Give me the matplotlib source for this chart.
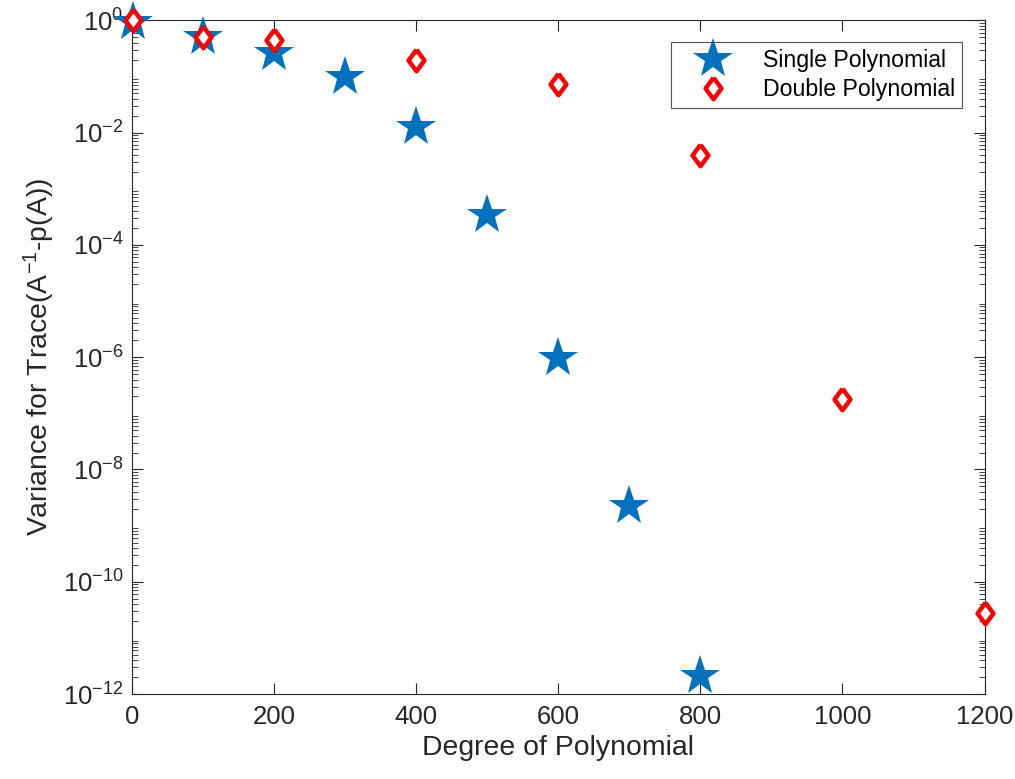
import matplotlib
matplotlib.use("Agg")
import matplotlib.pyplot as plt
from matplotlib.ticker import LogLocator, FixedLocator, NullFormatter

plt.rcParams['font.family'] = ['Liberation Sans', 'DejaVu Sans']
plt.rcParams['mathtext.fontset'] = 'custom'
plt.rcParams['mathtext.rm'] = 'Liberation Sans'
plt.rcParams['mathtext.it'] = 'Liberation Sans'

single_x = [1, 100, 200, 300, 400, 500, 600, 700, 800]
single_y = [0.92, 0.5, 0.26, 0.097, 0.0125, 3.4e-4, 9.7e-7, 2.2e-9, 2.1e-12]
double_x = [1, 100, 200, 400, 600, 800, 1000, 1200]
double_y = [1.0, 0.5, 0.44, 0.195, 0.073, 0.004, 1.8e-7, 2.8e-11]
xticks = [0, 200, 400, 600, 800, 1000, 1200]
yticks = [1e0, 1e-2, 1e-4, 1e-6, 1e-8, 1e-10, 1e-12]
ytick_labels = ['$10^{0}$', '$10^{-2}$', '$10^{-4}$', '$10^{-6}$', '$10^{-8}$', '$10^{-10}$', '$10^{-12}$']

diamond = [(0, 1), (0.74, 0), (0, -1), (-0.74, 0), (0, 1)]

tc = '#262626'
fig = plt.figure(figsize=(10.15, 7.79), dpi=100)
ax = fig.add_axes([0.130, 0.109, 0.840, 0.865])

ax.plot(single_x, single_y, linestyle='none', marker='*', ms=30, color='#0072BD',
        markeredgewidth=0, clip_on=False, label='Single Polynomial', zorder=3)
ax.plot(double_x, double_y, linestyle='none', marker=diamond, ms=15.5, markerfacecolor='white',
        markeredgecolor='#FF0000', markeredgewidth=3.2, clip_on=False,
        label='Double Polynomial', zorder=4)

ax.set_yscale('log')
ax.set_xlim(0, 1200)
ax.set_ylim(1e-12, 1e0)
ax.set_xticks(xticks)
ax.set_xticklabels([str(t) for t in xticks])
ax.yaxis.set_major_locator(FixedLocator(yticks))
ax.set_yticklabels(ytick_labels)
ax.yaxis.set_minor_locator(LogLocator(base=10, subs=range(2, 10), numticks=30))
ax.yaxis.set_minor_formatter(NullFormatter())
ax.tick_params(which='both', direction='in', top=True, right=True, colors=tc,
               labelsize=18.5, labelcolor=tc)
ax.tick_params(which='major', length=8, width=0.8)
ax.tick_params(which='minor', length=4, width=0.6)
ax.tick_params(axis='x', pad=8)
ax.tick_params(axis='y', pad=6)
for s in ax.spines.values():
    s.set_color(tc)
    s.set_linewidth(0.8)

ax.set_xlabel('Degree of Polynomial', fontsize=20.4, color=tc, labelpad=4)
ax.set_ylabel('Variance for Trace(A$^{-1}$-p(A))', fontsize=20.4, color=tc, labelpad=4)

leg = ax.legend(loc='upper right', bbox_to_anchor=(0.974, 0.967), borderaxespad=0,
                fontsize=16.7, frameon=True, fancybox=False, edgecolor=tc,
                handlelength=3.1, borderpad=0.3, labelspacing=0.25,
                handletextpad=0.6, numpoints=1)
leg.get_frame().set_linewidth(0.8)

fig.savefig('out.png', dpi=100)
